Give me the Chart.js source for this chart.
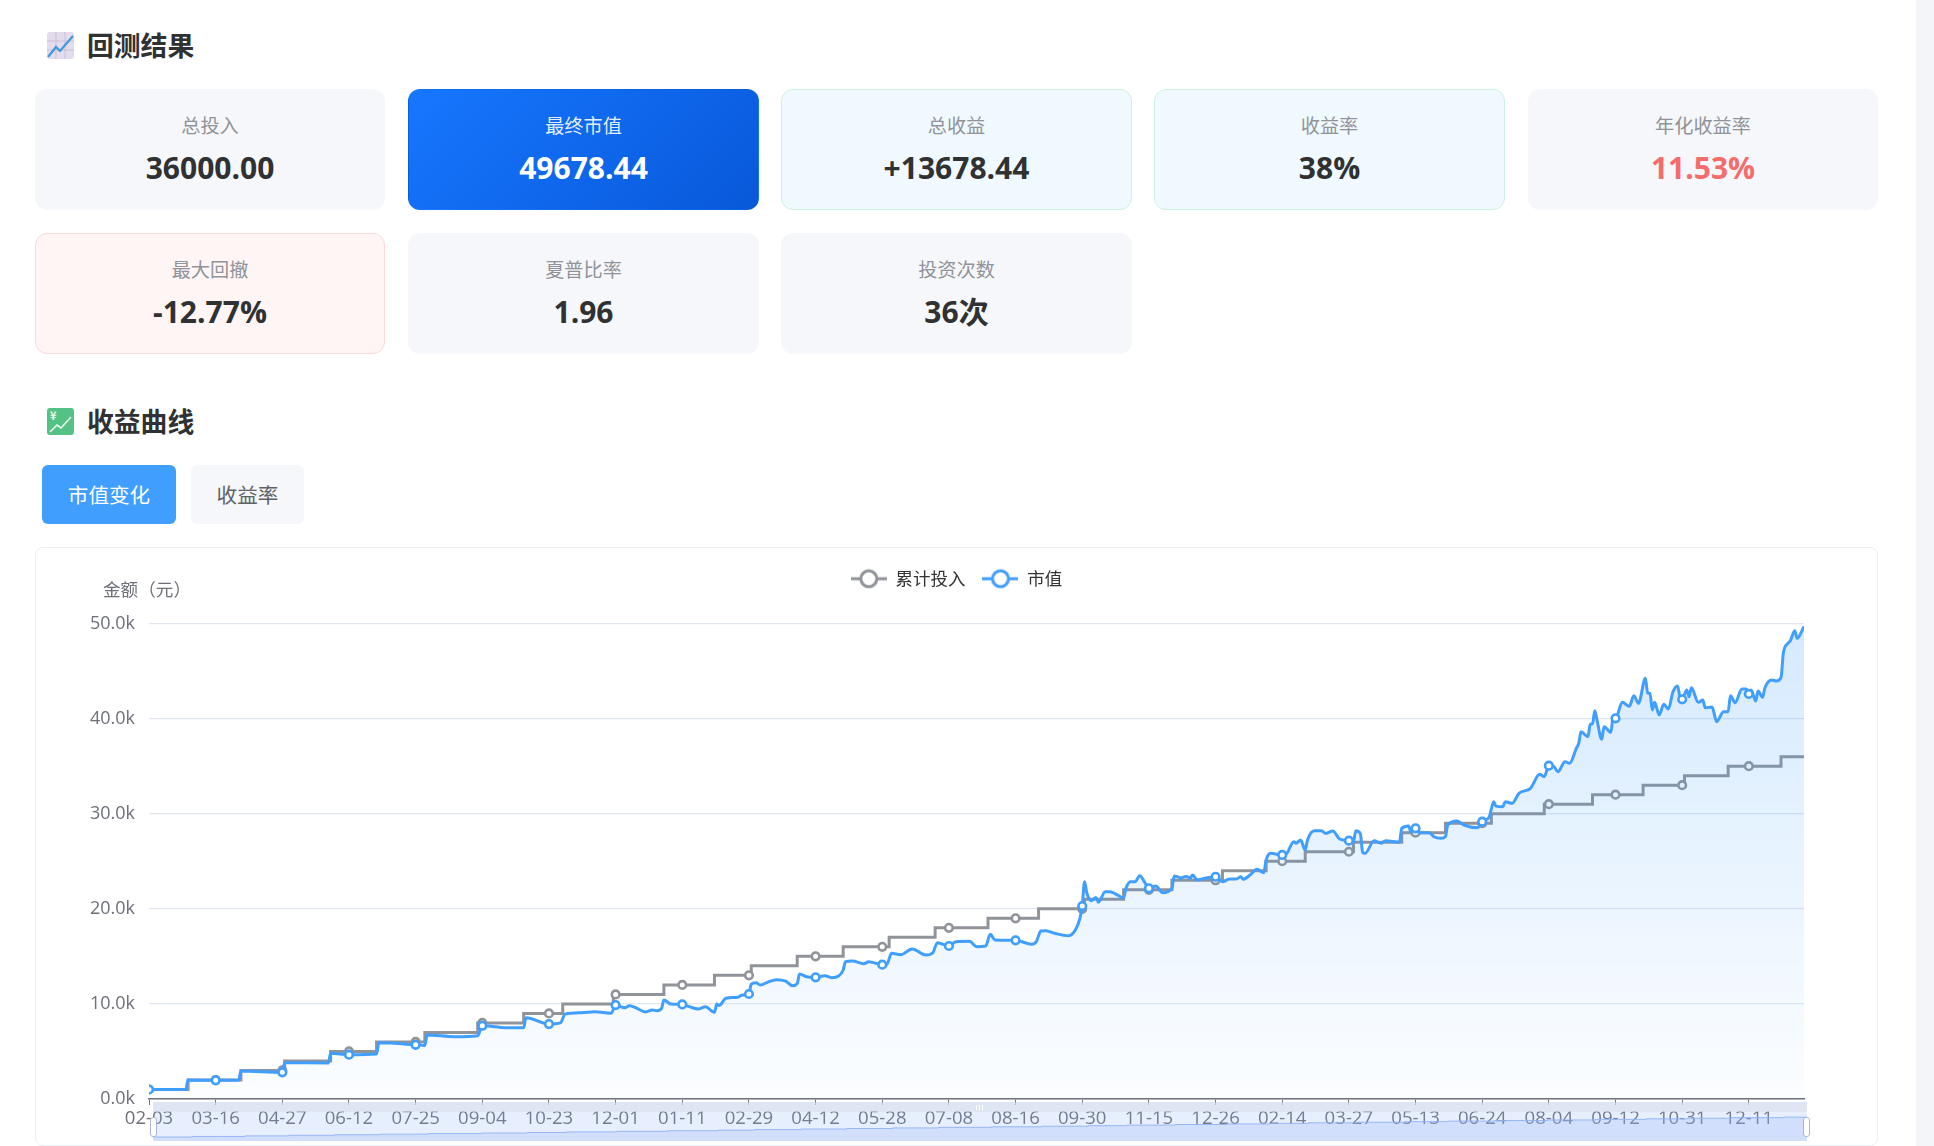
<!DOCTYPE html>
<html lang="zh-CN">
<head>
<meta charset="utf-8">
<title>回测结果</title>
<script src="https://cdn.jsdelivr.net/npm/chart.js@4/dist/chart.umd.js"></script>
<style>
    html, body { margin: 0; height: 100%; overflow: hidden; background: #fff; }
    body { position: relative; width: 1934px; height: 1146px; font-family: "Open Sans", "Noto Sans CJK SC", sans-serif; color: #303133; }
    .scrollbar { position: absolute; left: 1916px; top: 0; width: 18px; height: 1146px; background: #f4f5f9; }
    .heading { position: absolute; left: 47px; display: flex; align-items: center; font: 700 26.8px/27px "Noto Sans CJK SC", sans-serif; }
    .heading svg { position: relative; top: 1px; width: 27px; height: 27px; margin-right: 13px; }
    .stat { position: absolute; box-sizing: border-box; width: 351px; height: 121px; border-radius: 12px; background: #f5f7fa; text-align: center; border: 1px solid transparent; }
    .stat.first { width: 350px; }
    .stat .name { margin-top: 22px; font: 400 19.2px/26px "Noto Sans CJK SC", sans-serif; color: #909399; }
    .stat .num { margin-top: 10px; font: 700 30px/40px "Open Sans", "Noto Sans CJK SC", sans-serif; }
    .stat.main { background: linear-gradient(135deg, #1677ff, #0958d9); color: #fff; }
    .stat.main .name { color: rgba(255, 255, 255, 0.9); }
    .stat.good { background: #f0f9ff; border-color: #c9f2e0; }
    .stat.bad { background: #fff5f5; border-color: #fbd9d9; }
    .stat .red { color: #f56c6c; }
    .tab { position: absolute; top: 465px; height: 59px; text-align: center; border-radius: 6px; font: 400 20.6px/59px "Noto Sans CJK SC", sans-serif; }
    .tab.on { left: 42px; width: 134px; background: #409eff; color: #fff; }
    .tab.off { left: 191px; width: 113px; background: #f5f7fa; color: #606266; }
    .panel { position: absolute; left: 35px; top: 547px; box-sizing: border-box; width: 1843px; height: 599px; border: 1px solid #ebeef5; border-radius: 8px; }
    #curve-box { position: absolute; left: 35px; top: 547px; width: 1843px; height: 599px; }
    .axis-name { position: absolute; left: 103px; top: 577px; font: 400 17.6px/24px "Noto Sans CJK SC", sans-serif; color: #6e7079; }
    /* range slider under the x axis */
    .move-bar { position: absolute; left: 153px; top: 1102px; width: 1654px; height: 10px; background: #d2dbee; opacity: 0.7; }
    .grip { position: absolute; left: 976px; top: 1105px; width: 8px; height: 5px; background: repeating-linear-gradient(90deg, #fff 0 1.5px, transparent 1.5px 3px); }
    .range { position: absolute; left: 153px; top: 1112px; width: 1654px; height: 29px; background: rgba(135, 175, 255, 0.2); }
    #range-box { position: absolute; left: 153px; top: 1112px; width: 1654px; height: 29px; }
    .handle { position: absolute; top: 1117px; box-sizing: border-box; width: 7px; height: 20px; background: #fff; border: 1.5px solid #acb8d1; border-radius: 3px; }
</style>
</head>
<body>
<div class="scrollbar"></div>

<div class="heading" style="top:31px">
    <svg viewBox="0 0 27 27">
        <rect width="27" height="27" rx="3" fill="#e3dcec"/>
        <path d="M9 0V27M18 0V27M0 9H27M0 18H27" stroke="#cbbfd9" stroke-width="1"/>
        <path d="M1 25L9 15L13 19L26 4" fill="none" stroke="#3f97dc" stroke-width="2.2"/>
    </svg>回测结果
</div>

<div class="stat first" style="left:35px;top:89px"><div class="name">总投入</div><div class="num">36000.00</div></div>
<div class="stat main" style="left:408px;top:89px"><div class="name">最终市值</div><div class="num">49678.44</div></div>
<div class="stat good" style="left:781px;top:89px"><div class="name">总收益</div><div class="num">+13678.44</div></div>
<div class="stat good" style="left:1154px;top:89px"><div class="name">收益率</div><div class="num">38%</div></div>
<div class="stat first" style="left:1528px;top:89px"><div class="name">年化收益率</div><div class="num red">11.53%</div></div>
<div class="stat bad first" style="left:35px;top:233px"><div class="name">最大回撤</div><div class="num">-12.77%</div></div>
<div class="stat" style="left:408px;top:233px"><div class="name">夏普比率</div><div class="num">1.96</div></div>
<div class="stat" style="left:781px;top:233px"><div class="name">投资次数</div><div class="num">36次</div></div>

<div class="heading" style="top:407px">
    <svg viewBox="0 0 27 27">
        <rect width="27" height="27" rx="3" fill="#55c285"/>
        <path d="M3 24L10 17L14 20L24 9" fill="none" stroke="#e8fbef" stroke-width="1.6"/>
        <text x="3" y="12" font-size="11" font-weight="700" fill="#e8fbef">¥</text>
    </svg>收益曲线
</div>
<div class="tab on">市值变化</div>
<div class="tab off">收益率</div>

<div class="panel"></div>
<div id="curve-box"><canvas id="curve"></canvas></div>
<div class="axis-name">金额（元）</div>

<div class="move-bar"></div>
<div class="grip"></div>
<div class="range"></div>
<div id="range-box"><canvas id="range-curve"></canvas></div>
<div class="handle" style="left:150px"></div>
<div class="handle" style="left:1803px"></div>

<script>
// trading days are counted from the first one, a date label every 29 days
const tickEvery = 29;
const lastDay = 720;
const tickDates = ['02-03', '03-16', '04-27', '06-12', '07-25', '09-04', '10-23', '12-01', '01-11', '02-29',
    '04-12', '05-28', '07-08', '08-16', '09-30', '11-15', '12-26', '02-14', '03-27', '05-13',
    '06-24', '08-04', '09-12', '10-31', '12-11'];

// one contribution a month: the day it lands and the running total after it
const investDays = [0, 17, 40, 59, 79, 99, 120, 143, 163, 180, 202, 224, 246, 262, 282, 302, 322, 342, 365, 387,
    407, 424, 445, 467, 486, 503, 524, 545, 564, 584, 607, 628, 650, 668, 687, 710, 720];
const investTotals = [1000, 2000, 3000, 4000, 5000, 6000, 7000, 8000, 9000, 10000, 11000, 12000, 13000, 14000,
    15000, 16000, 17000, 18000, 19000, 20000, 21000, 22000, 23000, 24000, 25000, 26000, 27000, 28000, 29000,
    30000, 31000, 32000, 33000, 34000, 35000, 36000, 36000];

const marketDays = [0, 16, 17, 29, 39, 40, 58, 59, 78, 79, 87, 99, 100, 116, 120, 121, 133, 143, 145, 155, 163, 164, 174, 179,
    181, 188, 194, 201, 203, 205, 207, 209, 212, 216, 219, 221, 223, 224, 227, 232, 235, 239, 242, 246, 247, 248, 251, 256, 258, 261,
    262, 264, 266, 269, 273, 277, 280, 282, 283, 286, 290, 294, 297, 300, 302, 303, 306, 311, 313, 319, 321, 323, 327, 332, 338, 341,
    343, 348, 351, 357, 360, 364, 366, 368, 377, 384, 386, 388, 390, 394, 400, 403, 405, 406, 407, 408, 410, 412, 413, 416, 418, 420,
    424, 425, 427, 429, 431, 433, 435, 438, 441, 445, 446, 449, 451, 453, 454, 456, 459, 464, 467, 470, 473, 475, 476, 479, 482, 485,
    486, 488, 493, 495, 498, 499, 501, 503, 504, 507, 510, 512, 515, 518, 522, 524, 525, 527, 528, 529, 533, 536, 538, 544, 545, 548,
    549, 551, 553, 557, 559, 562, 564, 565, 569, 572, 578, 580, 583, 585, 586, 589, 590, 593, 596, 601, 605, 607, 609, 611, 613, 616,
    618, 621, 622, 623, 626, 627, 628, 629, 630, 632, 633, 636, 637, 638, 641, 644, 646, 648, 651, 652, 653, 654, 655, 657, 659, 661,
    663, 665, 666, 667, 669, 670, 671, 674, 676, 677, 680, 682, 685, 687, 688, 690, 693, 695, 696, 697, 699, 700, 702, 703, 706, 708,
    710, 711, 713, 714, 716, 717, 720];
const marketValues = [1000, 1000, 1990, 1965, 1960, 2940, 2800, 3810, 3790, 4800, 4660, 4740, 5920, 5700, 5620, 6730, 6550, 6650, 7700, 7500, 7480, 8550, 7880, 8000,
    8930, 9080, 9180, 9010, 9880, 9710, 9600, 9815, 9570, 9150, 9360, 9280, 9530, 10410, 9990, 9950, 9710, 9460, 9710, 9110, 10000, 9830, 10590, 10690, 10930, 11040,
    12090, 12230, 11990, 12270, 12550, 12400, 11910, 12130, 13140, 12860, 12790, 12970, 12760, 12930, 13560, 14440, 14510, 14230, 14440, 14120, 14150, 15320, 15170, 15770, 15140, 15380,
    16440, 16090, 16540, 16580, 16020, 16090, 17320, 16720, 16690, 16270, 16540, 17670, 17700, 17420, 17170, 17770, 19000, 20290, 22850, 21660, 20850, 21200, 20680, 21800, 21800, 21630,
    21170, 22150, 22850, 22850, 23480, 22850, 22150, 22400, 21690, 22150, 23450, 23250, 23400, 23250, 23550, 23030, 23200, 23370, 22850, 23130, 23130, 23370, 23100, 23550, 24150, 23800,
    25130, 25830, 25660, 25830, 27060, 26900, 27230, 26180, 27230, 28210, 28210, 27930, 28180, 27340, 27160, 27060, 28210, 27900, 25900, 25830, 27160, 26890, 27160, 26990, 28460, 28710,
    28110, 28460, 28000, 28000, 27580, 27410, 27580, 28810, 29230, 28810, 28530, 29160, 29620, 31260, 30800, 30740, 31260, 31090, 32140, 32670, 34140, 33900, 35050, 35000, 34420, 35470,
    35300, 36900, 37400, 38620, 38100, 39400, 39450, 40830, 39780, 37820, 39150, 38560, 40300, 40030, 41710, 41300, 42410, 41600, 44230, 42660, 42660, 40900, 41710, 40380, 41500, 41010,
    42830, 43430, 42300, 42030, 43010, 42300, 43250, 41710, 41950, 41150, 41210, 39680, 40730, 40730, 42410, 41670, 43110, 43110, 42590, 43000, 41850, 42900, 42240, 43250, 44060, 43950,
    44300, 46870, 47920, 48160, 49240, 48440, 49678.44];

const grayLine = '#909399';
const blueLine = '#409eff';

// total invested on a given day, taken from the last contribution before it
function investOn(day) {
    let total = investTotals[0];
    investDays.forEach((d, i) => {
        if (d <= day) total = investTotals[i];
    });
    return total;
}

function buildInvestPoints() {
    const tickDays = tickDates.map((t, i) => i * tickEvery);
    const days = [...new Set(investDays.concat(tickDays))].sort((a, b) => a - b);
    return days.map(d => ({ x: d, y: investOn(d) }));
}

const investPoints = buildInvestPoints();
const marketPoints = marketDays.map((d, i) => ({ x: d, y: marketValues[i] }));

// line-and-ring symbol for the legend
function legendIcon(color) {
    const c = document.createElement('canvas');
    c.width = 36;
    c.height = 24;
    const g = c.getContext('2d');
    g.strokeStyle = color;
    g.lineWidth = 3;
    g.beginPath();
    g.moveTo(0, 12);
    g.lineTo(36, 12);
    g.stroke();
    g.beginPath();
    g.arc(18, 12, 8, 0, Math.PI * 2);
    g.fillStyle = '#fff';
    g.fill();
    g.stroke();
    return c;
}

function markerRadius(ctx) {
    return ctx.raw && ctx.raw.x % tickEvery === 0 ? 3.8 : 0;
}

function areaGradient(ctx) {
    const area = ctx.chart.chartArea;
    if (!area) return 'rgba(64, 158, 255, 0.1)';
    const g = ctx.chart.ctx.createLinearGradient(0, area.top, 0, area.bottom);
    g.addColorStop(0, 'rgba(64, 158, 255, 0.22)');
    g.addColorStop(1, 'rgba(64, 158, 255, 0.02)');
    return g;
}

// extra room between the legend and the plot
const legendGap = {
    id: 'legendGap',
    beforeInit(chart) {
        const fit = chart.legend.fit;
        chart.legend.fit = function() {
            fit.call(this);
            this.height += 26;
        };
    }
};

const tickFont = { family: '"Open Sans", "Noto Sans CJK SC", sans-serif', size: 18 };
const dateFont = { family: '"Open Sans", "Noto Sans CJK SC", sans-serif', size: 18.6 };

new Chart(document.getElementById('curve'), {
    type: 'line',
    plugins: [legendGap],
    data: {
        datasets: [{
            label: '累计投入',
            data: investPoints,
            order: 1,
            stepped: true,
            borderColor: grayLine,
            borderWidth: 3,
            backgroundColor: '#fff',
            pointRadius: markerRadius,
            pointBorderWidth: 2.6,
            pointBorderColor: grayLine,
            pointBackgroundColor: '#fff',
            fill: false
        }, {
            label: '市值',
            data: marketPoints,
            order: 0,
            cubicInterpolationMode: 'monotone',
            borderColor: blueLine,
            borderWidth: 3,
            backgroundColor: areaGradient,
            pointRadius: markerRadius,
            pointBorderWidth: 2.6,
            pointBorderColor: blueLine,
            pointBackgroundColor: '#fff',
            fill: 'origin'
        }]
    },
    options: {
        responsive: true,
        maintainAspectRatio: false,
        animation: false,
        parsing: false,
        layout: { padding: { top: 6, right: 0, left: 0, bottom: 0 } },
        plugins: {
            tooltip: { enabled: false },
            legend: {
                position: 'top',
                labels: {
                    usePointStyle: true,
                    pointStyleWidth: 36,
                    boxHeight: 20,
                    padding: 17,
                    color: '#333',
                    font: { family: '"Noto Sans CJK SC", sans-serif', size: 17.5 },
                    generateLabels(chart) {
                        return chart.data.datasets.map((ds, i) => ({
                            text: ds.label,
                            datasetIndex: i,
                            fontColor: '#333',
                            pointStyle: legendIcon(ds.borderColor),
                            fillStyle: ds.borderColor,
                            strokeStyle: ds.borderColor,
                            lineWidth: 0
                        }));
                    }
                }
            }
        },
        scales: {
            x: {
                type: 'linear',
                min: 0,
                max: lastDay,
                afterFit(scale) { scale.height = 47; },
                grid: { drawOnChartArea: false, drawTicks: true, tickLength: 6, color: '#6e7079' },
                border: { color: '#6e7079', width: 1.5 },
                ticks: {
                    stepSize: tickEvery,
                    includeBounds: false,
                    autoSkip: false,
                    maxRotation: 0,
                    padding: 3,
                    color: '#6e7079',
                    font: dateFont,
                    callback: value => tickDates[value / tickEvery]
                }
            },
            y: {
                min: 0,
                max: 50000,
                afterFit(scale) { scale.width = 114; },
                grid: { color: '#e0e6f1', lineWidth: 1.3, drawTicks: false },
                border: { display: false },
                ticks: {
                    stepSize: 10000,
                    padding: 14,
                    color: '#6e7079',
                    font: tickFont,
                    callback: value => (value / 1000).toFixed(1) + 'k'
                }
            },
            // empty axis that keeps the right margin without pushing the legend off centre
            rightMargin: {
                position: 'right',
                afterFit(scale) { scale.width = 74; },
                grid: { display: false },
                border: { display: false },
                ticks: { display: false }
            }
        }
    }
});

// small copy of the invested total inside the slider
new Chart(document.getElementById('range-curve'), {
    type: 'line',
    data: {
        datasets: [{
            data: investPoints,
            stepped: true,
            borderColor: 'rgba(143, 176, 247, 0.9)',
            borderWidth: 1,
            backgroundColor: 'rgba(143, 176, 247, 0.25)',
            pointRadius: 0,
            fill: 'start'
        }]
    },
    options: {
        responsive: true,
        maintainAspectRatio: false,
        animation: false,
        parsing: false,
        plugins: { legend: { display: false }, tooltip: { enabled: false } },
        scales: {
            x: { type: 'linear', display: false, min: 0, max: lastDay },
            y: { display: false, min: -6000, max: 45000 }
        }
    }
});
</script>
</body>
</html>
